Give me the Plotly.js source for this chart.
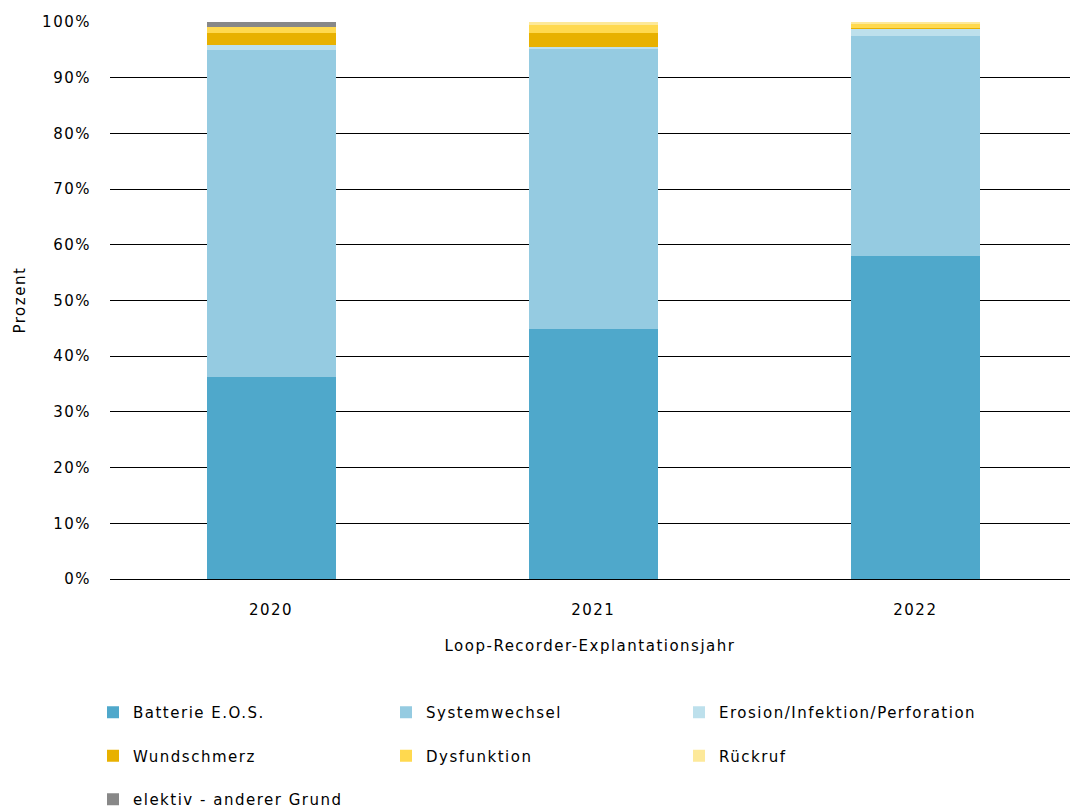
<!DOCTYPE html>
<html>
<head>
<meta charset="utf-8">
<script src="https://cdn.plot.ly/plotly-3.0.1.min.js"></script>
<style>
html,body{margin:0;padding:0;background:#fff;}
#chart{width:1070px;height:812px;}
text{letter-spacing:1.5px;}
</style>
</head>
<body>
<div id="chart"></div>
<script>
const years = ['2020', '2021', '2022'];
const batterie = [36.3, 44.9, 58.0];
const systemwechsel = [58.7, 50.3, 39.5];
const erosion = [0.9, 0.3, 1.2];
const wundschmerz = [2.2, 2.5, 0.3];
const dysfunktion = [1.0, 1.5, 0.6];
const rueckruf = [0.0, 0.5, 0.4];
const elektiv = [0.9, 0.0, 0.0];

const series = [
  {name: 'Batterie E.O.S.', y: batterie, color: '#4fa8cb', legend: 'legend'},
  {name: 'Systemwechsel', y: systemwechsel, color: '#95cbe1', legend: 'legend2'},
  {name: 'Erosion/Infektion/Perforation', y: erosion, color: '#bde0ec', legend: 'legend3'},
  {name: 'Wundschmerz', y: wundschmerz, color: '#e8b100', legend: 'legend'},
  {name: 'Dysfunktion', y: dysfunktion, color: '#ffd94f', legend: 'legend2'},
  {name: 'Rückruf', y: rueckruf, color: '#fde99a', legend: 'legend3'},
  {name: 'elektiv - anderer Grund', y: elektiv, color: '#888888', legend: 'legend'}
];

const traces = series.map((s, i) => ({
  type: 'bar', x: years, y: s.y, name: s.name, legend: s.legend, legendgroup: 'g' + i,
  marker: {color: s.color, line: {width: 0}},
  hoverinfo: 'name+y'
}));

const font = {family: 'DejaVu Sans, Verdana, sans-serif', size: 15, color: '#000'};
const legBase = {orientation: 'v', xanchor: 'left', yanchor: 'top', xref: 'container', yref: 'container',
  y: 1 - 696 / 812, font: font, bgcolor: 'rgba(0,0,0,0)', traceorder: 'grouped', tracegroupgap: 21};

const layout = {
  width: 1070, height: 812,
  margin: {l: 110, r: 0, t: 22, b: 233, autoexpand: false},
  barmode: 'stack', bargap: 0.6,
  font: font,
  paper_bgcolor: '#fff', plot_bgcolor: '#fff',
  xaxis: {type: 'category', range: [-0.5, 2.48], showgrid: false, zeroline: false, showline: false, ticks: '',
    ticklabelstandoff: 20, automargin: false,
    tickfont: font, title: {text: 'Loop-Recorder-Explantationsjahr', font: font, standoff: 22}},
  yaxis: {range: [0, 100], dtick: 10, ticksuffix: '%', showgrid: true, gridcolor: '#000', gridwidth: 1,
    zeroline: true, zerolinecolor: '#000', zerolinewidth: 1, showline: false, ticks: '',
    ticklabelstandoff: 18, automargin: false, tickfont: font},
  annotations: [{text: 'Prozent', xref: 'paper', yref: 'paper', x: (19 - 110) / 960, y: 0.5,
    xanchor: 'center', yanchor: 'middle', textangle: -90, showarrow: false, font: font}],
  legend: Object.assign({}, legBase, {x: 93 / 1070}),
  legend2: Object.assign({}, legBase, {x: 386 / 1070}),
  legend3: Object.assign({}, legBase, {x: 679 / 1070}),
  showlegend: true
};

Plotly.newPlot('chart', traces, layout, {displayModeBar: false, staticPlot: true});
</script>
</body>
</html>
